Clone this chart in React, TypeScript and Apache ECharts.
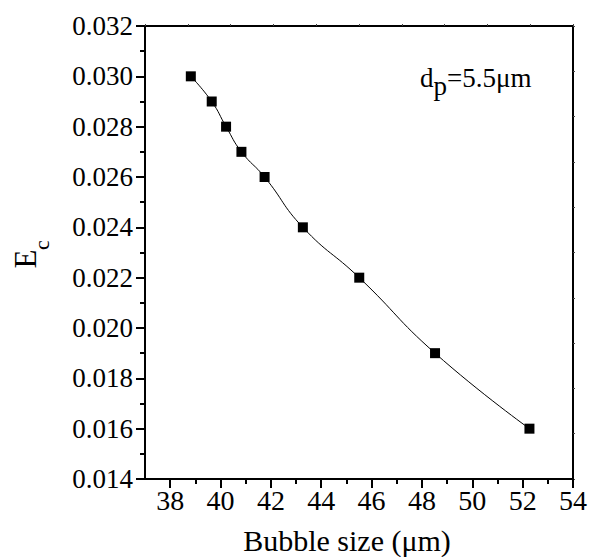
import React, { useEffect, useRef } from 'react';
import * as echarts from 'echarts';

const bubbleSize = [38.82, 39.65, 40.22, 40.83, 41.75, 43.27, 45.51, 48.52, 52.27];
const ecValues = [0.030, 0.029, 0.028, 0.027, 0.026, 0.024, 0.022, 0.019, 0.016];
const xTickValues = [38, 40, 42, 44, 46, 48, 50, 52, 54];
const xTitle = 'Bubble size (μm)';
const yTitleMain = 'E';
const yTitleSub = 'c';
const noteMain = 'd';
const noteSub = 'p';
const noteRest = '=5.5μm';

const FAMILY = '"Liberation Serif"';

export default function App() {
  const ref = useRef<HTMLDivElement>(null);
  useEffect(() => {
    const chart = echarts.init(ref.current!, null, { renderer: 'svg' });
    const black = '#000';
    chart.setOption({
      animation: false,
      backgroundColor: '#fff',
      textStyle: { fontFamily: FAMILY },
      grid: { left: 145, right: 16, top: 26, bottom: 78 },
      xAxis: [
        {
          type: 'value', min: 37, max: 54, splitNumber: 8, position: 'bottom',
          axisLine: { onZero: false, lineStyle: { color: black, width: 2 } },
          axisTick: { length: 9, customValues: xTickValues, lineStyle: { color: black, width: 2 } },
          minorTick: { show: true, splitNumber: 2, length: 5, lineStyle: { color: black, width: 2 } },
          axisLabel: { customValues: xTickValues, color: black, fontFamily: FAMILY, fontSize: 28, margin: 7 },
          splitLine: { show: false },
        },
        {
          type: 'value', min: 0, max: 10, interval: 1, position: 'top',
          axisLine: { onZero: false, lineStyle: { color: black, width: 2 } },
          axisTick: { length: 2, lineStyle: { color: '#444', width: 1 } },
          axisLabel: { show: false },
          splitLine: { show: false },
        },
      ],
      yAxis: [
        {
          type: 'value', min: 0.014, max: 0.032, interval: 0.002, position: 'left',
          axisLine: { onZero: false, lineStyle: { color: black, width: 2 } },
          axisTick: { length: 9, lineStyle: { color: black, width: 2 } },
          minorTick: { show: true, splitNumber: 2, length: 5, lineStyle: { color: black, width: 2 } },
          axisLabel: { color: black, fontFamily: FAMILY, fontSize: 27, margin: 12, formatter: (v: number) => v.toFixed(3) },
          splitLine: { show: false },
        },
        {
          type: 'value', min: 0, max: 10, interval: 1, position: 'right',
          axisLine: { onZero: false, lineStyle: { color: black, width: 2 } },
          axisTick: { length: 2, lineStyle: { color: '#444', width: 1 } },
          axisLabel: { show: false },
          splitLine: { show: false },
        },
      ],
      series: [
        {
          type: 'line', xAxisIndex: 0, yAxisIndex: 0,
          data: bubbleSize.map((x, i) => [x, ecValues[i]]),
          smooth: 0.5,
          symbol: 'rect', symbolSize: 10,
          itemStyle: { color: black },
          lineStyle: { color: black, width: 1 },
        },
      ],
      graphic: [
        { type: 'text', x: 347, y: 540, style: { text: xTitle, font: `30px ${FAMILY}`, fill: black, textAlign: 'center', textVerticalAlign: 'middle' } },
        { type: 'text', x: 25, y: 259, rotation: Math.PI / 2, style: { text: yTitleMain, font: `31px ${FAMILY}`, fill: black, textAlign: 'center', textVerticalAlign: 'middle' } },
        { type: 'text', x: 41, y: 245, rotation: Math.PI / 2, style: { text: yTitleSub, font: `22px ${FAMILY}`, fill: black, textAlign: 'center', textVerticalAlign: 'middle' } },
        { type: 'text', x: 420, y: 78, style: { text: noteMain, font: `27px ${FAMILY}`, fill: black, textAlign: 'left', textVerticalAlign: 'middle' } },
        { type: 'text', x: 433.5, y: 85.5, style: { text: noteSub, font: `27px ${FAMILY}`, fill: black, textAlign: 'left', textVerticalAlign: 'middle' } },
        { type: 'text', x: 447, y: 78, style: { text: noteRest, font: `27px ${FAMILY}`, fill: black, textAlign: 'left', textVerticalAlign: 'middle' } },
      ],
    });
    return () => chart.dispose();
  }, []);
  return <div ref={ref} style={{ position: 'fixed', left: 0, top: 0, width: 590, height: 557 }} />;
}
